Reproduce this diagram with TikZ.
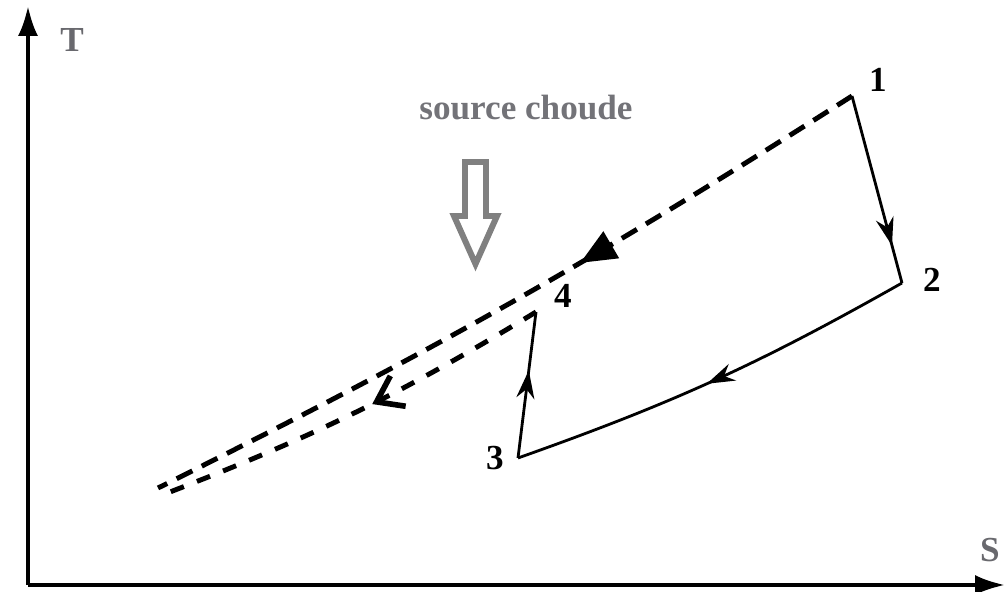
\documentclass[tikz,border=0pt]{standalone}
\usepackage{fontspec}
\setmainfont{Liberation Serif}
\usetikzlibrary{arrows.meta, positioning, decorations.markings}
\definecolor{axisGray}{RGB}{105,105,110}
\definecolor{sourceGray}{RGB}{115,115,120}
\definecolor{hollowGray}{RGB}{128,128,128}

\begin{document}
\begin{tikzpicture}[
    axis_line/.style={line width=1.1pt, -{Latex[length=3mm, width=2mm]}},
    axis_label/.style={font=\bfseries\fontsize{10}{12}\selectfont, text=axisGray, inner sep=1pt},
    state/.style={font=\bfseries\fontsize{10}{12}\selectfont, inner sep=1pt},
    stroke/.style={line width=0.8pt},
    heat_upper/.style={line width=1.4pt, dash pattern=on 5pt off 3pt},
    heat_lower/.style={line width=1.4pt, dash pattern=on 4pt off 4pt},
    hollow/.style={draw=hollowGray, line width=1.7pt, line join=miter},
    mid_tip/.style 2 args={postaction={decorate}, decoration={markings, mark=at position #1 with {\arrow{#2}}}}
]
    % Frame (keeps the reference proportions)
    \useasboundingbox (0,0) rectangle (10.07,5.92);

    % Axes
    \coordinate (origin) at (0.28,0.07);
    \coordinate (tTop) at (0.28,5.86);
    \coordinate (sEnd) at (10.05,0.07);
    \draw[axis_line] (origin) -- (tTop);
    \draw[axis_line] (origin) -- (sEnd);
    \node[axis_label] (tLabel) at (0.72,5.52) {T};
    \node[axis_label] (sLabel) at (9.90,0.42) {S};

    % Cycle states
    \coordinate (p1) at (8.52,4.96);
    \coordinate (p2) at (9.02,3.09);
    \coordinate (p3) at (5.18,1.34);
    \coordinate (p4) at (5.36,2.80);
    \coordinate (e1) at (1.58,1.04);
    \coordinate (e2) at (1.70,1.00);
    \node[state] (l1) at (8.78,5.12) {1};
    \node[state] (l2) at (9.32,3.12) {2};
    \node[state] (l3) at (4.95,1.34) {3};
    \node[state] (l4) at (5.63,2.96) {4};

    % Solid branches
    \draw[stroke, mid_tip={0.8}{Stealth[length=2.8mm, width=1.8mm]}] (p1) -- (p2);
    \draw[stroke, mid_tip={0.52}{Stealth[length=2.8mm, width=1.8mm]}] (p2) to[bend left=5] (p3);
    \draw[stroke, mid_tip={0.6}{Stealth[length=2.8mm, width=1.8mm]}] (p3) -- (p4);

    % Dashed branches
    \draw[heat_upper, mid_tip={0.4}{Triangle[length=3.6mm, width=3mm]}] (p1) to[bend left=3] (e1);
    \draw[heat_lower, mid_tip={0.46}{Straight Barb[length=2.4mm, width=3.4mm, line width=1.6pt]}] (p4) to[bend left=5] (e2);

    % Heat source
    \node[font=\bfseries\fontsize{10}{12}\selectfont, text=sourceGray] (source) at (5.26,4.84) {source choude};
    \draw[hollow] (4.65,4.30) -- (4.86,4.30) -- (4.86,3.76) -- (4.97,3.76) -- (4.755,3.28)
        -- (4.54,3.76) -- (4.65,3.76) -- cycle;
\end{tikzpicture}
\end{document}
